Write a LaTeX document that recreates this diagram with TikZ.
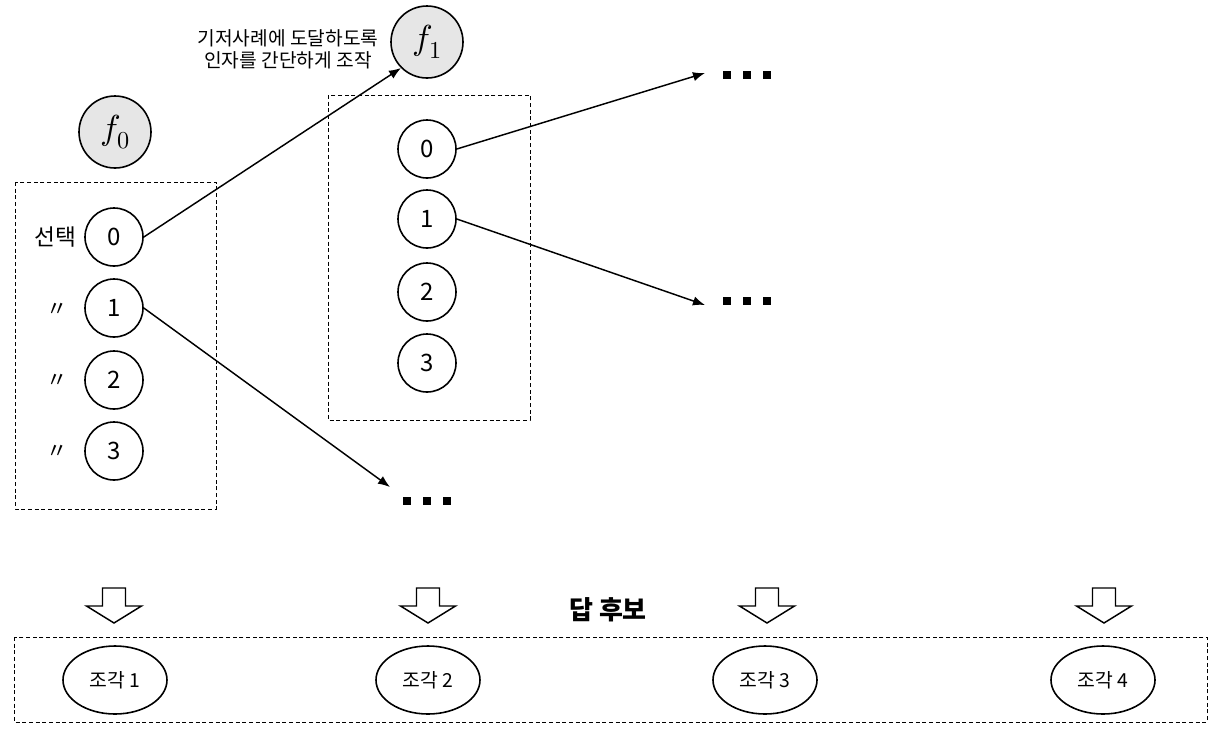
\documentclass[tikz,border=0pt]{standalone}
\usepackage{fontspec}
\usepackage{unicode-math}
\setmainfont{Noto Sans CJK KR}
\setmathfont{Latin Modern Math}
\usetikzlibrary{arrows.meta,shapes.geometric}
\definecolor{fgray}{HTML}{E6E6E6}
\begin{document}
\begin{tikzpicture}[x=0.75pt,y=-0.75pt,
  bigc/.style={circle,draw,line width=1.2pt,fill=fgray,minimum size=54pt,inner sep=0pt,font=\fontsize{26}{28}\selectfont},
  numc/.style={circle,draw,line width=1.2pt,minimum size=43.5pt,inner sep=0pt,font=\fontsize{18}{20}\selectfont},
  piece/.style={ellipse,draw,line width=1.2pt,minimum width=78pt,minimum height=51pt,inner sep=0pt,font=\fontsize{14.5}{16}\selectfont},
  frame/.style={draw,line width=0.75pt,dash pattern=on 3pt off 2pt},
  conn/.style={-{Latex[length=9pt,width=7pt]},line width=1.1pt},
  dotrow/.style={inner sep=0pt},
  side/.style={font=\fontsize{17}{20}\selectfont},
  ditto/.style={font=\fontsize{16}{18}\selectfont},
  blockarrow/.style={draw,line width=1.1pt,fill=white,line join=miter}
]
\useasboundingbox (0,0) rectangle (1222,733);

% frames
\draw[frame] (15,182) rectangle (216,509);
\draw[frame] (328,95) rectangle (530,420);
\draw[frame] (14,637) rectangle (1207,722);

% function circles
\node[bigc] (f0) at (115,132) {$f_0$};
\node[bigc] (f1) at (427,42) {$f_1$};

% left column
\node[numc] (a0) at (114,237) {0};
\node[numc] (a1) at (114,308) {1};
\node[numc] (a2) at (114,380) {2};
\node[numc] (a3) at (114,451) {3};
\node[side] (s0) at (55,237) {선택};
\node[ditto] (s1) at (57,310) {〃};
\node[ditto] (s2) at (57,381) {〃};
\node[ditto] (s3) at (57,452) {〃};

% middle column
\node[numc] (b0) at (427,149) {0};
\node[numc] (b1) at (427,219) {1};
\node[numc] (b2) at (427,292) {2};
\node[numc] (b3) at (427,363) {3};

% annotation
\node[align=center,font=\fontsize{14.4}{16.5}\selectfont] (note) at (288,49) {기저사례에 도달하도록\\인자를 간단하게 조작};

% dots
\newcommand{\sqdots}{\rule{6pt}{6pt}\hspace{9pt}\rule{6pt}{6pt}\hspace{9pt}\rule{6pt}{6pt}}
\node[dotrow] (d1) at (427,501) {\sqdots};
\node[dotrow] (d2) at (747,75) {\sqdots};
\node[dotrow] (d3) at (747,301) {\sqdots};

\coordinate (e1) at (390,487);
\coordinate (e2) at (705,73);
\coordinate (e3) at (705,305);

% connectors
\draw[conn] (a0.east) -- (f1.south west);
\draw[conn] (a1.east) -- (e1);
\draw[conn] (b0.east) -- (e2);
\draw[conn] (b1.east) -- (e3);

% block arrows
\foreach \x in {114,428,767,1104}{
  \draw[blockarrow] (\x-11.5,588) -- (\x+11.5,588) -- (\x+11.5,606) -- (\x+27.5,606)
    -- (\x,623) -- (\x-27.5,606) -- (\x-11.5,606) -- cycle;
}
\node[font=\bfseries\fontsize{19.5}{22}\selectfont] (cand) at (608,610) {답 후보};

% pieces
\node[piece] (p1) at (115,680) {조각 1};
\node[piece] (p2) at (428,680) {조각 2};
\node[piece] (p3) at (765,680) {조각 3};
\node[piece] (p4) at (1103,680) {조각 4};
\end{tikzpicture}
\end{document}
